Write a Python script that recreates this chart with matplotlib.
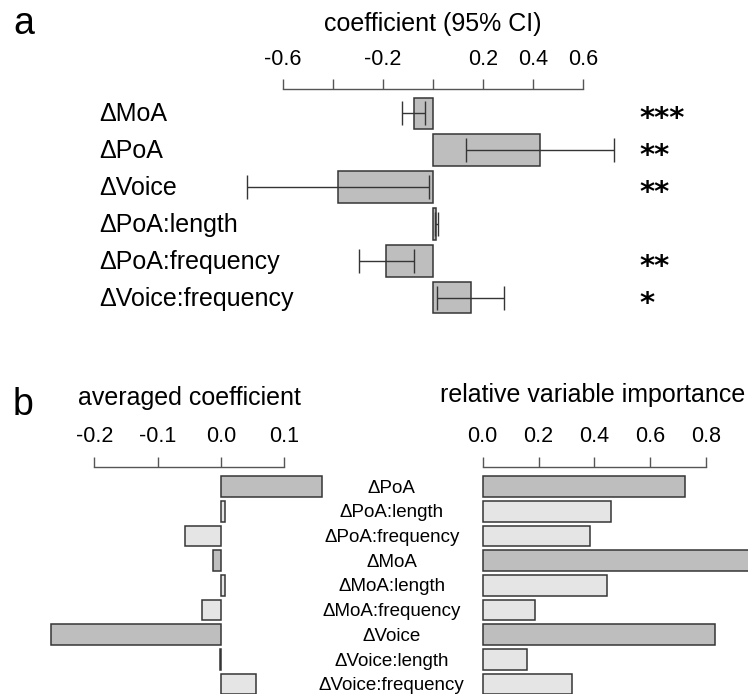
import matplotlib
matplotlib.use("Agg")                       # headless backend
import matplotlib.pyplot as plt
from matplotlib.transforms import blended_transform_factory

plt.rcParams["font.family"] = ["Liberation Sans", "DejaVu Sans"]

# ------------------------------------------------------------------
# Data
# ------------------------------------------------------------------
# panel a: model coefficients with 95% CI
terms_a = ["ΔMoA", "ΔPoA", "ΔVoice", "ΔPoA:length",
           "ΔPoA:frequency", "ΔVoice:frequency"]
coef_a = [-0.076, 0.429, -0.381, 0.014, -0.186, 0.152]
ci_low_a = [-0.122, 0.132, -0.743, 0.009, -0.295, 0.016]
ci_high_a = [-0.031, 0.725, -0.015, 0.019, -0.076, 0.286]
stars_a = ["***", "**", "**", "", "**", "*"]
ticks_a = [-0.6, -0.4, -0.2, 0.0, 0.2, 0.4, 0.6]
ticklabels_a = ["-0.6", "", "-0.2", "", "0.2", "0.4", "0.6"]

# panel b: model averaging
terms_b = ["ΔPoA", "ΔPoA:length", "ΔPoA:frequency",
           "ΔMoA", "ΔMoA:length", "ΔMoA:frequency",
           "ΔVoice", "ΔVoice:length", "ΔVoice:frequency"]
avg_coef_b = [0.160, 0.006, -0.057, -0.013, 0.006, -0.030, -0.268, -0.001, 0.055]
importance_b = [0.725, 0.460, 0.386, 1.0, 0.447, 0.187, 0.834, 0.160, 0.319]
main_effect_b = [True, False, False, True, False, False, True, False, False]
ticks_b_left = [-0.2, -0.1, 0.0, 0.1]
ticks_b_right = [0.0, 0.2, 0.4, 0.6, 0.8]

DARK = "#bebebe"
LIGHT = "#e5e5e5"
EDGE = "#353535"
AXIS = "#555555"

W, H = 748, 694
fig = plt.figure(figsize=(W / 100, H / 100), dpi=100)


def px_axes(left, top, right, bottom):
    """Add an axes given its box in pixel coordinates (origin top-left)."""
    return fig.add_axes([left / W, 1 - bottom / H,
                         (right - left) / W, (bottom - top) / H])


def r_style_top_axis(ax, ticks, labels, fontsize, pad):
    """Bare R-like axis on top: a line between first and last tick."""
    for side in ("left", "right", "bottom"):
        ax.spines[side].set_visible(False)
    ax.spines["top"].set_bounds(ticks[0], ticks[-1])
    ax.spines["top"].set_color(AXIS)
    ax.spines["top"].set_linewidth(1.0)
    ax.xaxis.tick_top()
    ax.set_xticks(ticks)
    ax.set_xticklabels(labels)
    ax.tick_params(axis="x", direction="out", length=7.2, width=1.0,
                   color=AXIS, labelsize=fontsize, pad=pad)
    ax.set_yticks([])
    ax.patch.set_visible(False)


# ------------------------------------------------------------------
# Panel a
# ------------------------------------------------------------------
ax_a = px_axes(240, 89, 620, 322)
ax_a.set_xlim(-0.771, 0.749)
ax_a.set_ylim(5.65, -0.65)
rows_a = list(range(len(terms_a)))

ax_a.barh(rows_a, coef_a, height=0.84, color=DARK, edgecolor=EDGE, linewidth=1.1)
ax_a.hlines(rows_a, ci_low_a, ci_high_a, color=EDGE, linewidth=1.0)
ax_a.vlines(ci_low_a, [r - 0.33 for r in rows_a], [r + 0.33 for r in rows_a],
            color=EDGE, linewidth=1.0)
ax_a.vlines(ci_high_a, [r - 0.33 for r in rows_a], [r + 0.33 for r in rows_a],
            color=EDGE, linewidth=1.0)
r_style_top_axis(ax_a, ticks_a, ticklabels_a, fontsize=15.5, pad=6.8)

trans_a = blended_transform_factory(fig.transFigure, ax_a.transData)
for r, name, st in zip(rows_a, terms_a, stars_a):
    ax_a.text(99 / W, r + 0.22, name, transform=trans_a, ha="left",
              va="baseline", fontsize=18)
    ax_a.text(639 / W, r + 0.37, st, transform=trans_a, ha="left",
              va="baseline", fontsize=21, family="DejaVu Sans",
              fontweight="bold")

fig.text(433 / W, 1 - 31 / H, "coefficient (95% CI)", ha="center",
         va="baseline", fontsize=18)
fig.text(13 / W, 1 - 34 / H, "a", ha="left", va="baseline", fontsize=27)

# ------------------------------------------------------------------
# Panel b
# ------------------------------------------------------------------
colors_b = [DARK if m else LIGHT for m in main_effect_b]
rows_b = list(range(len(terms_b)))

ax_bl = px_axes(40, 466.7, 330, 694)
ax_bl.set_xlim(-0.2859, 0.1722)
ax_bl.set_ylim(8.4, -0.8)
ax_bl.barh(rows_b, avg_coef_b, height=0.84, color=colors_b,
           edgecolor=EDGE, linewidth=1.1)
r_style_top_axis(ax_bl, ticks_b_left, [f"{t:.1f}" for t in ticks_b_left],
                 fontsize=15.5, pad=7.2)

ax_br = px_axes(480, 466.7, 748, 694)
ax_br.set_xlim(-0.00968, 0.9509)
ax_br.set_ylim(8.4, -0.8)
ax_br.barh(rows_b, importance_b, height=0.84, color=colors_b,
           edgecolor=EDGE, linewidth=1.1)
r_style_top_axis(ax_br, ticks_b_right, [f"{t:.1f}" for t in ticks_b_right],
                 fontsize=15.5, pad=7.2)

trans_b = blended_transform_factory(fig.transFigure, ax_bl.transData)
for r, name in zip(rows_b, terms_b):
    ax_bl.text(391.7 / W, r + 0.25, name, transform=trans_b, ha="center",
               va="baseline", fontsize=13.5, clip_on=False)

fig.text(189.5 / W, 1 - 405 / H, "averaged coefficient", ha="center",
         va="baseline", fontsize=18)
fig.text(593 / W, 1 - 402 / H, "relative variable importance", ha="center",
         va="baseline", fontsize=18)
fig.text(13 / W, 1 - 415 / H, "b", ha="left", va="baseline", fontsize=27)

fig.savefig("out.png", dpi=100)
plt.close(fig)
